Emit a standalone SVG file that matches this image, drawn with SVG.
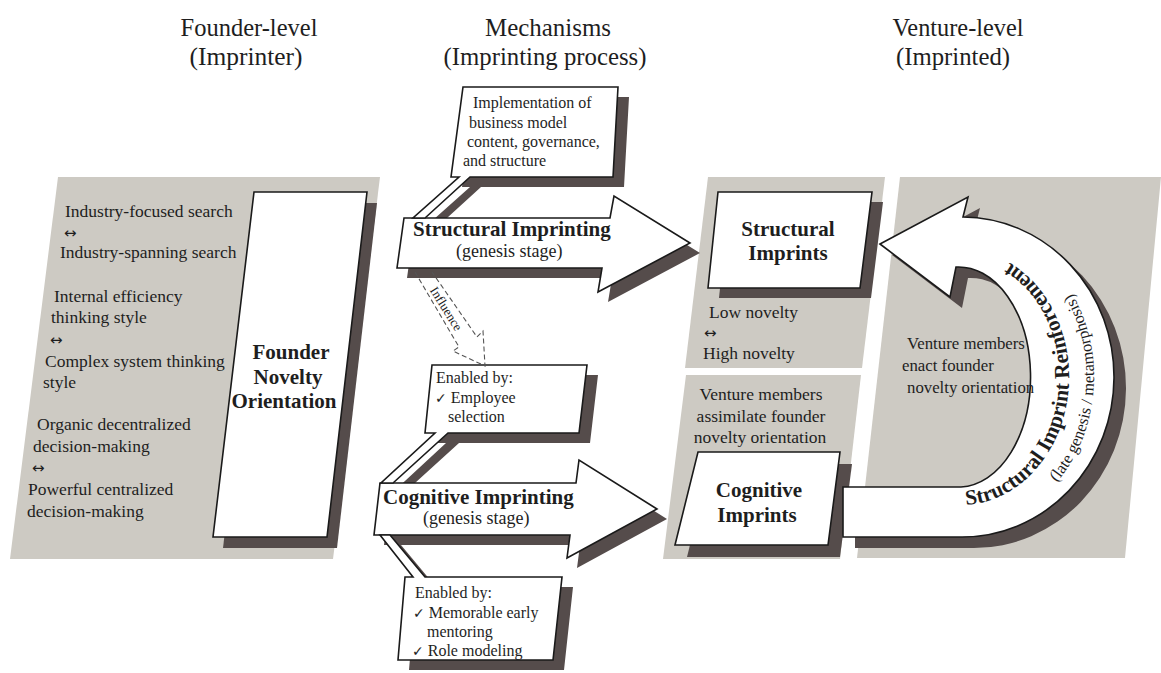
<svg xmlns="http://www.w3.org/2000/svg" width="1161" height="673" viewBox="0 0 1161 673">
<defs>
<style>
.panel{fill:#cdcac3}
.sh{fill:#554c4b}
.bx{fill:#fff;stroke:#1a1a1a;stroke-width:1.6;stroke-linejoin:miter}
text{font-family:"Liberation Serif","Times New Roman",serif;fill:#1e1e1e}
.hd{font-size:26px}
.t{font-size:17.5px}
.c{font-size:16px}
.b{font-size:21px;font-weight:bold}
.ar{font-size:15px;font-family:"DejaVu Sans",sans-serif}
.ck{font-family:"DejaVu Sans",sans-serif;font-size:14px}
.m{text-anchor:middle}
.infl{fill:none;stroke:#555;stroke-width:1.1;stroke-dasharray:5,3}
</style>
<path id="arcB" d="M 961,505 A 108,128 0 0 0 961,249"/>
<path id="arcS" d="M 961,529 A 133,152 0 0 0 961,225"/>
</defs>
<rect width="1161" height="673" fill="#fff"/>

<g id="headers">
<text class="hd m" x="249" y="36" textLength="137" lengthAdjust="spacingAndGlyphs">Founder-level</text>
<text class="hd m" x="246" y="65" textLength="113" lengthAdjust="spacingAndGlyphs">(Imprinter)</text>
<text class="hd m" x="548" y="36" textLength="126" lengthAdjust="spacingAndGlyphs">Mechanisms</text>
<text class="hd m" x="545" y="65" textLength="203" lengthAdjust="spacingAndGlyphs">(Imprinting process)</text>
<text class="hd m" x="958" y="36" textLength="131" lengthAdjust="spacingAndGlyphs">Venture-level</text>
<text class="hd m" x="953" y="65" textLength="114" lengthAdjust="spacingAndGlyphs">(Imprinted)</text>
</g>

<g id="panel-founder">
<polygon class="panel" points="58,177 380,177 333,559 10,559"/>
<text class="t" x="65" y="217">Industry-focused search</text>
<text class="ar" x="64" y="238">↔</text>
<text class="t" x="60" y="258">Industry-spanning search</text>
<text class="t" x="54" y="302">Internal efficiency</text>
<text class="t" x="51" y="323">thinking style</text>
<text class="ar" x="50" y="345">↔</text>
<text class="t" x="45" y="367">Complex system thinking</text>
<text class="t" x="43" y="388">style</text>
<text class="t" x="37" y="430">Organic decentralized</text>
<text class="t" x="33" y="452">decision-making</text>
<text class="ar" x="32" y="473">↔</text>
<text class="t" x="28" y="495">Powerful centralized</text>
<text class="t" x="27" y="517">decision-making</text>
</g>

<g id="node-founder">
<polygon class="sh" points="264,203 377,203 337,548 223,548"/>
<polygon class="bx" points="254,192 367,192 327,537 213,537"/>
<text class="b m" x="291" y="359">Founder</text>
<text class="b m" x="288" y="384">Novelty</text>
<text class="b m" x="284" y="408">Orientation</text>
</g>

<g id="panel-structural">
<polygon class="panel" points="708,177 885,177 862,368 685,368"/>
<text class="t" x="709" y="318">Low novelty</text>
<text class="ar" x="704" y="338">↔</text>
<text class="t" x="703" y="359">High novelty</text>
</g>

<g id="panel-cognitive">
<polygon class="panel" points="686,375 861,375 840,559 663,559"/>
<text class="t m" x="761" y="400">Venture members</text>
<text class="t m" x="761" y="422">assimilate founder</text>
<text class="t m" x="760" y="443">novelty orientation</text>
</g>

<g id="panel-reinforcement">
<polygon class="panel" points="900,177 1161,177 1125,558 857,558"/>
</g>

<g id="node-structural-imprints">
<polygon class="sh" points="729,202 883,202 871,298 719,298"/>
<polygon class="bx" points="718,192 872,192 860,288 708,288"/>
<text class="b m" x="788" y="236">Structural</text>
<text class="b m" x="788" y="260">Imprints</text>
</g>

<g id="node-cognitive-imprints">
<polygon class="sh" points="710,464 852,464 840,557 687,557"/>
<polygon class="bx" points="698,452 840,452 828,545 675,545"/>
<text class="b m" x="759" y="497">Cognitive</text>
<text class="b m" x="757" y="522">Imprints</text>
</g>

<g id="connectors">
<polygon class="sh" transform="translate(11,10)" points="463,87 618,87 613,177 470,177 425,218 413,218 459,177 451,177"/>
<polygon class="sh" transform="translate(10,10)" points="404,218 610,218 614,196 690,243 598,292 602,268 397,268"/>
<polygon class="sh" transform="translate(11,10)" points="432,365 587,365 579,433 448,433 393,483 381,483 435,433 425,433"/>
<polygon class="sh" transform="translate(10,10)" points="380,483 576,483 579,460 657,509 567,558 570,535 374,535"/>
<polygon class="sh" transform="translate(11,10)" points="405,577 413,577 380,535 390,535 425,577 562,577 553,660 398,660"/>

<g id="arrow-structural">
<polygon class="bx" points="404,218 610,218 614,196 690,243 598,292 602,268 397,268"/>
<text class="b" x="413" y="236">Structural Imprinting</text>
<text x="456" y="257" style="font-size:18px">(genesis stage)</text>
</g>
<g id="arrow-cognitive">
<polygon class="bx" points="380,483 576,483 579,460 657,509 567,558 570,535 374,535"/>
<text class="b" x="383" y="504">Cognitive Imprinting</text>
<text x="423" y="524" style="font-size:18px">(genesis stage)</text>
</g>

<g id="callout-implementation">
<polygon class="bx" points="463,87 618,87 613,177 470,177 425,218 413,218 459,177 451,177"/>
<text class="c" x="473" y="108">Implementation of</text>
<text class="c" x="469" y="128">business model</text>
<text class="c" x="467" y="147">content, governance,</text>
<text class="c" x="463" y="166">and structure</text>
</g>

<g id="callout-employee">
<polygon class="bx" points="432,365 587,365 579,433 448,433 393,483 381,483 435,433 425,433"/>
<text class="c" x="436" y="383">Enabled by:</text>
<text class="c" x="435" y="403"><tspan class="ck">✓</tspan> Employee</text>
<text class="c" x="448" y="422">selection</text>
</g>

<g id="callout-mentoring">
<polygon class="bx" points="405,577 413,577 380,535 390,535 425,577 562,577 553,660 398,660"/>
<text class="c" x="415" y="598">Enabled by:</text>
<text class="c" x="413" y="618"><tspan class="ck">✓</tspan> Memorable early</text>
<text class="c" x="427" y="637">mentoring</text>
<text class="c" x="412" y="656"><tspan class="ck">✓</tspan> Role modeling</text>
</g>

<g id="arrow-influence">
<path class="infl" d="M 415,272 L 459,347 L 453,351 L 485,366 L 483,331 L 477,337 L 432,272"/>
<text x="446" y="313" transform="rotate(58 446 309)" class="m" style="font-size:13px">Influence</text>
</g>

<g id="arrow-reinforcement">
<path class="sh" transform="translate(12,11)" d="M 880,244 L 968,197 L 963,217 A 152,160 0 0 1 961,537 L 843,537 L 843,487 L 961,487 A 72,110 0 0 0 956,267 L 950,297 Z"/>
<path class="bx" d="M 880,244 L 968,197 L 963,217 A 152,160 0 0 1 961,537 L 843,537 L 843,487 L 961,487 A 72,110 0 0 0 956,267 L 950,297 Z"/>
<text style="font-size:21.5px;font-weight:bold"><textPath href="#arcB" startOffset="5">Structural Imprint Reinforcement</textPath></text>
<text style="font-size:16.5px"><textPath href="#arcS" startOffset="110">(late genesis / metamorphosis)</textPath></text>
</g>
</g>

<g id="panel-reinforcement-text">
<text x="907" y="349" style="font-size:16.8px">Venture members</text>
<text x="902" y="371" style="font-size:16.8px">enact founder</text>
<text x="907" y="393" style="font-size:16.8px">novelty orientation</text>
</g>
</svg>
